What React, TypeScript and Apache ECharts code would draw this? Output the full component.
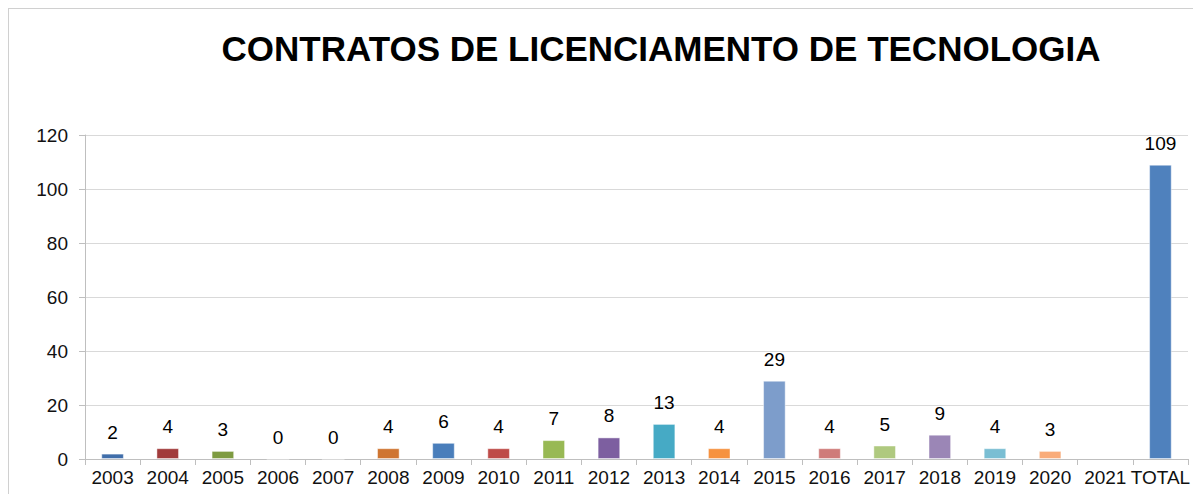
import React, { useEffect, useRef } from "react";
import * as echarts from "echarts";

const title = "CONTRATOS DE LICENCIAMENTO DE TECNOLOGIA";
const categories = ["2003", "2004", "2005", "2006", "2007", "2008", "2009", "2010", "2011", "2012", "2013", "2014", "2015", "2016", "2017", "2018", "2019", "2020", "2021", "TOTAL"];
const values: (number | null)[] = [2, 4, 3, 0, 0, 4, 6, 4, 7, 8, 13, 4, 29, 4, 5, 9, 4, 3, null, 109];
const barColors = ["#406EAA", "#A13B3B", "#7E9B41", "#65508A", "#3A93A8", "#CF7531", "#4A7EBB", "#BE4B48", "#98B954", "#7D5FA0", "#46AAC5", "#F69240", "#7D9DCB", "#CF7B79", "#AFC97F", "#9B86B6", "#7ABED3", "#F9AC7A", "#4A7EBB", "#4F81BD"];
const yTicks = { min: 0, max: 120, interval: 20 };

export default function App() {
  const ref = useRef<HTMLDivElement>(null);
  useEffect(() => {
    if (!ref.current) return;
    const chart = echarts.init(ref.current, undefined, { renderer: "svg" });
    const font = "Arial, 'Liberation Sans', sans-serif";
    chart.setOption({
      animation: false,
      textStyle: { fontFamily: font },
      title: {
        text: title,
        left: 647,
        top: 17,
        textAlign: "center",
        textStyle: { fontSize: 35, fontWeight: "bold", color: "#000", fontFamily: font },
      },
      grid: { left: 76, right: 13, top: 126, bottom: 35, containLabel: false },
      xAxis: {
        type: "category",
        data: categories,
        axisLine: { lineStyle: { color: "#bfbfbf", width: 1 } },
        axisTick: { show: true, length: 6, lineStyle: { color: "#bfbfbf" } },
        axisLabel: { fontSize: 19, color: "#111", margin: 9, fontFamily: font, interval: 0 },
      },
      yAxis: {
        type: "value",
        min: yTicks.min,
        max: yTicks.max,
        interval: yTicks.interval,
        axisLine: { show: true, lineStyle: { color: "#bfbfbf", width: 1 } },
        axisTick: { show: true, length: 6, lineStyle: { color: "#bfbfbf" } },
        axisLabel: { fontSize: 19, color: "#111", margin: 17, fontFamily: font },
        splitLine: { lineStyle: { color: "#d9d9d9", width: 1 } },
      },
      series: [
        {
          type: "bar",
          data: values.map((v, i) => ({ value: v, itemStyle: { color: barColors[i] } })),
          barWidth: "41%",
          itemStyle: { borderColor: "rgba(255,255,255,0.45)", borderWidth: 1 },
          label: {
            show: true,
            position: "top",
            distance: 12,
            fontSize: 19,
            color: "#000",
            fontFamily: font,
          },
        },
      ],
    });
    return () => chart.dispose();
  }, []);
  return (
    <div style={{ width: 1192, height: 485, borderTop: "1px solid #d0d0d0", borderLeft: "1px solid #d0d0d0", background: "#fff" }}>
      <div ref={ref} style={{ width: 1192, height: 485 }} />
    </div>
  );
}
